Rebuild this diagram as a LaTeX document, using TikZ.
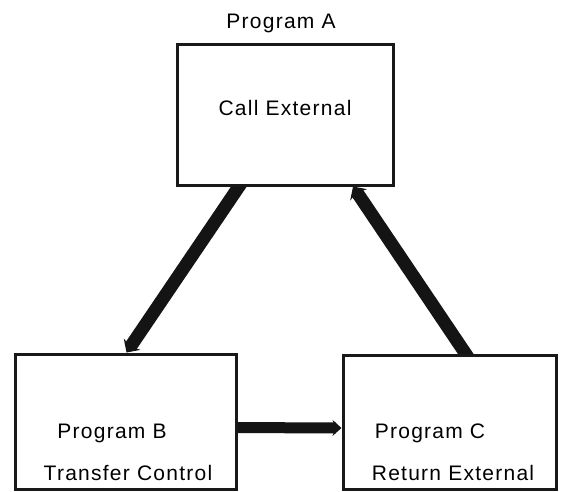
\documentclass[tikz,border=0pt]{standalone}
\usepackage{fontspec}
\setmainfont{Liberation Sans}[LetterSpace=6]
\usetikzlibrary{arrows.meta,backgrounds}
\begin{document}
\begin{tikzpicture}[x=1pt,y=-1pt,
  progbox/.style={draw=black!90,line width=3pt,fill=white,inner sep=0pt},
  lbl/.style={inner sep=0pt,font=\fontsize{21}{25}\selectfont},
  flow/.style={line width=13pt,draw=black!92,-{Stealth[length=10pt 0,width=20pt 0,inset=3pt 0]}},
  hflow/.style={line width=11pt,draw=black!92,-{Stealth[length=9pt 0,width=16pt 0,inset=3pt 0]}}]
\useasboundingbox (0,0) rectangle (561,491);
\node[progbox,minimum width=216pt,minimum height=141pt] (A) at (285,114.5) {};
\node[progbox,minimum width=221pt,minimum height=135pt] (B) at (125.5,421.5) {};
\node[progbox,minimum width=213pt,minimum height=134pt] (C) at (449.5,422) {};
\node[lbl] (tA) at (281,23) {Program A};
\node[lbl] (tA2) at (285,108) {Call External};
\node[lbl] (tB) at (112,433) {Program B};
\node[lbl] (tB2) at (128,473) {Transfer Control};
\node[lbl] (tC) at (430,433) {Program C};
\node[lbl] (tC2) at (453,473) {Return External};
\begin{pgfonlayer}{background}
\draw[flow] ([xshift=-42pt,yshift=6pt]A.south) -- ([xshift=1pt]B.north);
\draw[flow] ([xshift=20pt,yshift=-6pt]C.north) -- ([xshift=68pt]A.south);
\draw[hflow] ([xshift=-4pt,yshift=-6pt]B.east) -- ([yshift=-6pt]C.west);
\end{pgfonlayer}
\end{tikzpicture}
\end{document}
